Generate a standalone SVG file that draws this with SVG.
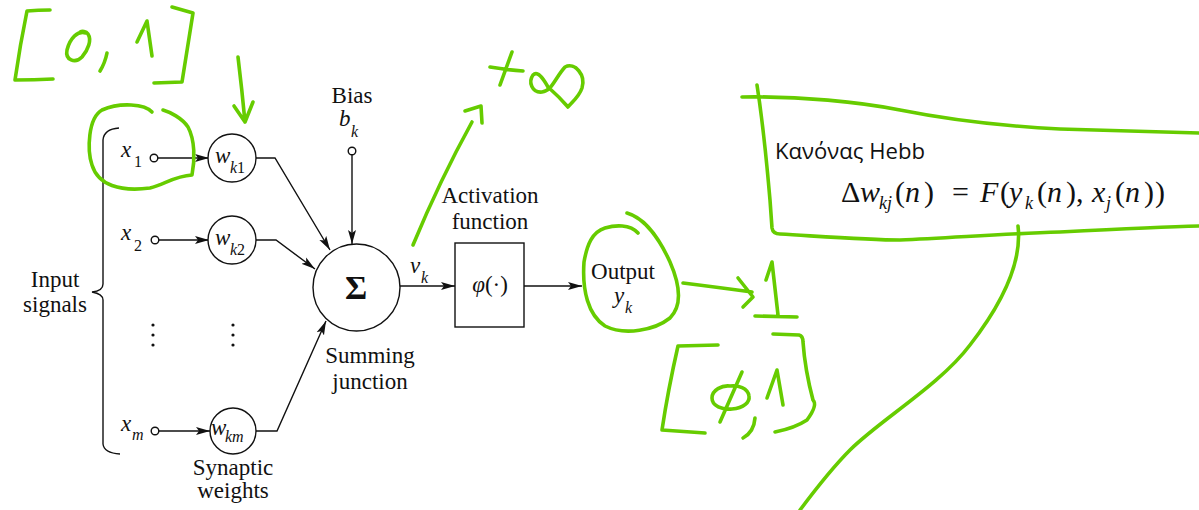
<svg xmlns="http://www.w3.org/2000/svg" width="1199" height="510" viewBox="0 0 1199 510">
<defs>
<style>
.t{font-family:"Liberation Serif","DejaVu Serif",serif;font-size:23px;fill:#111}
.i{font-style:italic}
.s{font-size:16px;font-style:italic}
.u{font-style:normal}
.ln{fill:none;stroke:#111;stroke-width:1.4}
.nd{fill:#fff;stroke:#111;stroke-width:1.4}
.g{fill:none;stroke:#66cc00;stroke-width:3.6;stroke-linecap:round;stroke-linejoin:round}
.hb{font-family:"Open Sans","DejaVu Sans",sans-serif;font-size:21px;fill:#111}
.fm{font-family:"Liberation Serif","DejaVu Serif",serif;font-size:30px;fill:#111}
.fs{font-size:18px;font-style:italic}
</style>
<marker id="ah" markerUnits="userSpaceOnUse" markerWidth="15" markerHeight="9" refX="14" refY="4.5" orient="auto">
<path d="M0,0.5 L14,4.5 L0,8.5 L3,4.5 z" fill="#111"/>
</marker>
</defs>
<rect width="1199" height="510" fill="#fff"/>

<g id="connectors">
<line class="ln" x1="158" y1="158" x2="209" y2="158" marker-end="url(#ah)"/>
<line class="ln" x1="159" y1="240" x2="209" y2="240" marker-end="url(#ah)"/>
<line class="ln" x1="159" y1="431" x2="210" y2="431" marker-end="url(#ah)"/>
<polyline class="ln" points="256,158 275,158 330,250" marker-end="url(#ah)"/>
<polyline class="ln" points="256,240 276,240 315,269" marker-end="url(#ah)"/>
<polyline class="ln" points="256,431 277,431 326,321" marker-end="url(#ah)"/>
<line class="ln" x1="352" y1="155" x2="352" y2="244" marker-end="url(#ah)"/>
<line class="ln" x1="400" y1="286" x2="455" y2="286" marker-end="url(#ah)"/>
<line class="ln" x1="524" y1="286" x2="582" y2="286" marker-end="url(#ah)"/>
</g>

<g id="brace">
<path class="ln" d="M119,128 Q104,129 103,140 L103,284 Q103,291 92,292 Q103,294 103,300 L103,444 Q104,453 120,454"/>
<text class="t" x="55" y="287" text-anchor="middle">Input</text>
<text class="t" x="55" y="312" text-anchor="middle">signals</text>
</g>

<g id="x1">
<text class="t i" x="121" y="157">x</text><text class="t s u" x="134" y="167">1</text>
<circle class="nd" cx="154" cy="158" r="3.8"/>
</g>
<g id="x2">
<text class="t i" x="121" y="240">x</text><text class="t s u" x="134" y="251">2</text>
<circle class="nd" cx="155" cy="240" r="3.8"/>
</g>
<g id="xm">
<text class="t i" x="121" y="431">x</text><text class="t s" x="132" y="440">m</text>
<circle class="nd" cx="155" cy="431" r="3.8"/>
</g>
<g id="dots" fill="#111">
<circle cx="153" cy="325" r="1.6"/><circle cx="153" cy="335" r="1.6"/><circle cx="153" cy="345" r="1.6"/>
<circle cx="233" cy="325" r="1.6"/><circle cx="233" cy="335" r="1.6"/><circle cx="233" cy="345" r="1.6"/>
</g>

<g id="wk1">
<circle class="nd" cx="232" cy="158" r="24"/>
<text class="t i" x="215" y="163">w</text><text class="t s" x="230" y="173">k<tspan class="u">1</tspan></text>
</g>
<g id="wk2">
<circle class="nd" cx="232" cy="240" r="24"/>
<text class="t i" x="215" y="245">w</text><text class="t s" x="230" y="255">k<tspan class="u">2</tspan></text>
</g>
<g id="wkm">
<circle class="nd" cx="233" cy="431" r="23"/>
<text class="t i" x="211" y="435">w</text><text class="t s" x="225" y="442">km</text>
<text class="t" x="233" y="475" text-anchor="middle">Synaptic</text>
<text class="t" x="233" y="498" text-anchor="middle">weights</text>
</g>

<g id="bias">
<text class="t" x="352" y="103" text-anchor="middle">Bias</text>
<text class="t i" x="339" y="126">b</text><text class="t s" x="351" y="137">k</text>
<circle class="nd" cx="352" cy="151" r="3.8"/>
</g>

<g id="sum">
<circle class="nd" cx="356.5" cy="287.5" r="43.5"/>
<text class="t" x="356" y="299" text-anchor="middle" style="font-size:34px;font-weight:bold">Σ</text>
<text class="t" x="370" y="363" text-anchor="middle">Summing</text>
<text class="t" x="370" y="389" text-anchor="middle">junction</text>
<text class="t i" x="410" y="273">v</text><text class="t s" x="421" y="283">k</text>
</g>

<g id="activation">
<rect class="nd" x="455" y="243" width="69" height="84"/>
<text class="t" x="490" y="292" text-anchor="middle"><tspan class="i">φ</tspan>(·)</text>
<text class="t" x="490" y="203" text-anchor="middle">Activation</text>
<text class="t" x="490" y="229" text-anchor="middle">function</text>
</g>

<g id="output">
<text class="t" x="623" y="279" text-anchor="middle">Output</text>
<text class="t i" x="614" y="303">y</text><text class="t s" x="625" y="313">k</text>
</g>

<g id="hebb">
<text class="hb" x="775" y="159" textLength="150" lengthAdjust="spacingAndGlyphs">Κανόνας Hebb</text>
<text class="fm" y="202"><tspan x="841">Δ</tspan><tspan class="i" x="860">w</tspan><tspan class="fs" x="879" y="209">kj</tspan><tspan x="895" y="202">(</tspan><tspan class="i" x="905">n</tspan><tspan x="924">)</tspan><tspan x="952">=</tspan><tspan class="i" x="980">F</tspan><tspan x="1000">(</tspan><tspan class="i" x="1009">y</tspan><tspan class="fs" x="1025" y="209">k</tspan><tspan x="1037" y="202">(</tspan><tspan class="i" x="1047">n</tspan><tspan x="1066">)</tspan><tspan x="1076">,</tspan><tspan class="i" x="1092">x</tspan><tspan class="fs" x="1106" y="209">j</tspan><tspan x="1115" y="202">(</tspan><tspan class="i" x="1125">n</tspan><tspan x="1144">)</tspan><tspan x="1155">)</tspan></text>
</g>

<g id="annotations">
<path class="g" d="M50,10 Q38,10 27,11 Q20,45 15,80 Q34,80 53,79"/>
<path class="g" d="M86,33 C78,30 70,38 67,50 C65,60 75,64 82,57 C88,50 92,40 88,34 C86,31 82,31 80,32"/>
<path class="g" d="M107,53 Q105,63 100,71"/>
<path class="g" d="M137,42 L147,21 L152,56"/>
<path class="g" d="M172,7 L193,13 L182,82 L154,83"/>
<path class="g" d="M238,57 Q242,90 245,122 M234,106 L245,122 L253,102"/>
<path class="g" d="M152,112 C145,104 120,102 102,110 C88,118 87,150 92,165 C98,185 120,192 150,188 C165,184 175,176 192,175 C195,160 195,140 188,127 C182,118 170,112 163,110"/>
<path class="g" d="M413,245 Q440,180 472,122 M465,111 L481,106 L482,123"/>
<path class="g" d="M490,67 Q508,70 523,71 M512,52 L500,85"/>
<path class="g" d="M548,87 C544,80 538,70 533,75 C528,82 532,93 542,92 C552,91 555,78 565,67 C575,62 586,75 582,88 C579,97 572,102 568,107 C562,100 556,94 548,87"/>
<path class="g" d="M627,213 C645,218 660,240 670,262 C680,285 683,305 670,318 C655,330 625,336 605,326 C588,315 582,290 584,262 C587,245 592,232 605,228 C615,225 630,224 638,233"/>
<path class="g" d="M683,283 Q715,287 752,292 M738,278 L753,297 L743,307"/>
<path class="g" d="M766,280 L772,262 L778,315 M755,316 L797,317"/>
<path class="g" d="M718,345 L678,346 Q668,390 662,430 L705,433"/>
<path class="g" d="M742,372 L720,422 M730,386 C722,385 712,390 712,398 C712,406 722,410 732,409 C744,408 750,402 749,396 C748,388 738,385 730,386"/>
<path class="g" d="M755,418 Q754,432 743,438"/>
<path class="g" d="M767,398 L777,370 L783,405"/>
<path class="g" d="M773,334 L799,335 Q803,336 803,342 Q805,370 813,400 Q818,405 807,420 Q795,428 775,432"/>
<path class="g" d="M742,97 C800,96 860,102 900,110 C950,120 1000,126 1060,129 C1120,131 1160,132 1199,133"/>
<path class="g" d="M757,85 Q764,130 770,200 L772,228 Q773,234 780,234 C830,237 870,240 900,240 C950,238 1000,234 1060,232 C1120,229 1160,227 1199,226"/>
<path class="g" d="M1018,226 C1022,260 1005,300 970,345 C940,385 880,420 850,450 C830,470 815,490 800,510"/>
</g>
</svg>
